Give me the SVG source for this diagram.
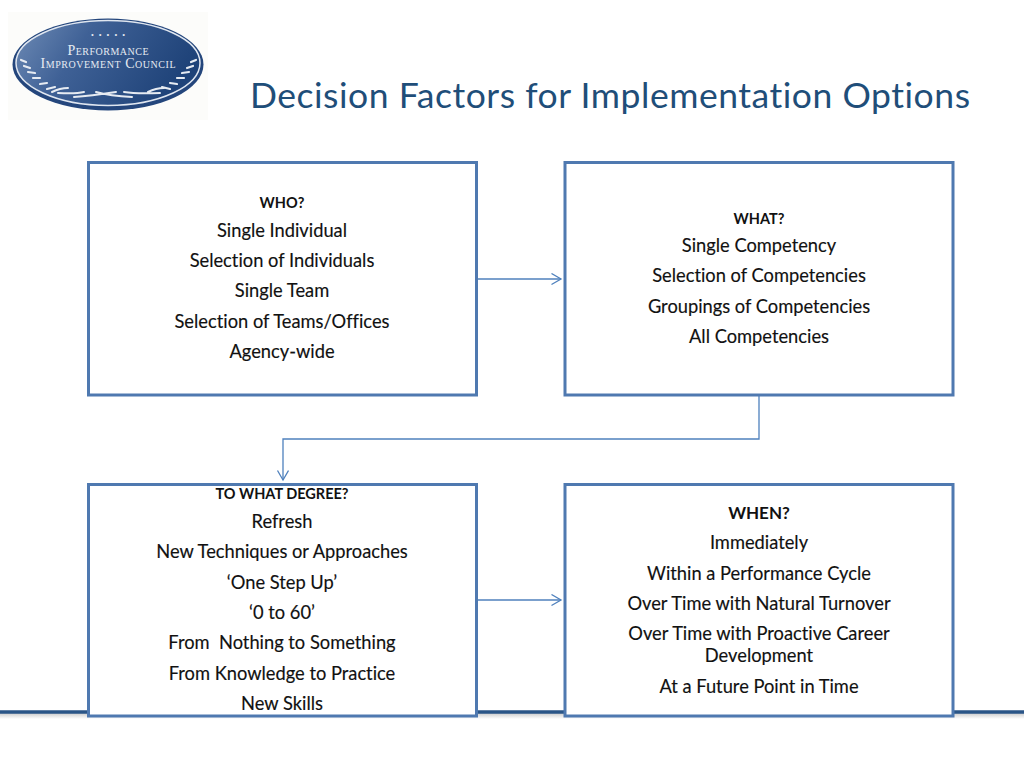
<svg xmlns="http://www.w3.org/2000/svg" width="1024" height="768" viewBox="0 0 1024 768">
<style>
.box{fill:#fff;stroke:#4f79b0;stroke-width:3}
.c{fill:none;stroke:#4f81bd;stroke-width:1.3}
text{font-family:"Lato","Liberation Sans",sans-serif;fill:#111;text-anchor:middle;font-variant-ligatures:none}
.t{font-size:18.300px;stroke:#111;stroke-width:.15}
.b{font-size:14.500px;font-weight:700}
.b2{font-size:17px;font-weight:700}
.s{font-family:"Liberation Serif",serif;fill:#e6ebf2;font-variant:small-caps;font-size:14px}
.leaf{fill:none;stroke:#e6ebf2;stroke-linecap:round}
</style>
<defs>
<linearGradient id="g" x1="0" y1="0" x2="1" y2="0.3"><stop offset="0" stop-color="#6f8cb6"/><stop offset=".4" stop-color="#3f6196"/><stop offset="1" stop-color="#1f4379"/></linearGradient>
<linearGradient id="sh" x1="0" y1="0" x2="0" y2="1"><stop offset="0" stop-color="#a8a8a8" stop-opacity=".6"/><stop offset="1" stop-color="#a8a8a8" stop-opacity="0"/></linearGradient>
<marker id="a" markerWidth="12" markerHeight="14" refX="10.500" refY="6" orient="auto" markerUnits="userSpaceOnUse"><path d="M1 0.500L10.500 6L1 11.500" fill="none" stroke="#4f81bd" stroke-width="1.300"/></marker>
</defs>
<rect width="1024" height="768" fill="#fff"/>
<g id="logo">
<rect x="8" y="12" width="200" height="108" fill="#fcfcfa"/>
<ellipse cx="108" cy="64.500" rx="95.500" ry="46" fill="#24467c"/>
<ellipse cx="108" cy="63" rx="92" ry="42.500" fill="url(#g)" stroke="#dfe6f0" stroke-width="1.500"/>
<text class="s" x="108" y="55" textLength="81">Performance</text>
<text class="s" x="108" y="68" textLength="135">Improvement Council</text>
<text class="s" x="108" y="38" style="font-size:8px" textLength="34">• • • • •</text>
<path class="leaf" stroke-width="2.200" d="M21 60L26 62M24 66L30 68M28 72L35 73M33 78L40 78M40 84L47 83M47 89L55 87M196 60L191 62M193 66L187 68M189 72L182 73M184 78L177 78M177 84L170 83M170 89L162 87"/>
<path class="leaf" stroke-width="2" d="M52 92Q60 88 68 88M58 93Q76 94 84 92M74 97Q90 96 116 92M96 92Q110 96 132 97M124 92Q136 94 160 93M148 92Q156 88 164 88"/>
</g>
<text id="title" x="610" y="108" font-size="35.500" style="fill:#1f4e79" textLength="720">Decision Factors for Implementation Options</text>
<g id="footer-rule">
<rect x="0" y="713" width="1024" height="6" fill="url(#sh)"/>
<line x1="0" y1="712" x2="1024" y2="712" stroke="#2a5587" stroke-width="3.500"/>
</g>
<g id="connectors">
<path class="c" d="M477 279H561" marker-end="url(#a)"/>
<path class="c" d="M759 395V439H283V480" marker-end="url(#a)"/>
<path class="c" d="M477 600H561" marker-end="url(#a)"/>
</g>
<g id="who">
<rect class="box" x="88.500" y="162.500" width="388" height="232.500"/>
<text class="b" x="282" y="208">WHO?</text>
<text class="t" x="282" y="236.500">Single Individual</text>
<text class="t" x="282" y="267">Selection of Individuals</text>
<text class="t" x="282" y="297">Single Team</text>
<text class="t" x="282" y="327.500">Selection of Teams/Offices</text>
<text class="t" x="282" y="358">Agency-wide</text>
</g>
<g id="what">
<rect class="box" x="565" y="162.500" width="388" height="232.500"/>
<text class="b" x="759" y="223.500">WHAT?</text>
<text class="t" x="759" y="252">Single Competency</text>
<text class="t" x="759" y="282">Selection of Competencies</text>
<text class="t" x="759" y="312.500">Groupings of Competencies</text>
<text class="t" x="759" y="343">All Competencies</text>
</g>
<g id="degree">
<rect class="box" x="88.500" y="484.500" width="388" height="231.500"/>
<text class="b" x="282" y="499">TO WHAT DEGREE?</text>
<text class="t" x="282" y="527.500">Refresh</text>
<text class="t" x="282" y="558">New Techniques or Approaches</text>
<text class="t" x="282" y="588.500">‘One Step Up’</text>
<text class="t" x="282" y="618.500">‘0 to 60’</text>
<text class="t" x="282" y="649" xml:space="preserve">From  Nothing to Something</text>
<text class="t" x="282" y="679.500">From Knowledge to Practice</text>
<text class="t" x="282" y="709.500">New Skills</text>
</g>
<g id="when">
<rect class="box" x="565" y="484.500" width="388" height="231.500"/>
<text class="b2" x="759" y="518.500">WHEN?</text>
<text class="t" x="759" y="549">Immediately</text>
<text class="t" x="759" y="579.500">Within a Performance Cycle</text>
<text class="t" x="759" y="610">Over Time with Natural Turnover</text>
<text class="t" x="759" y="640">Over Time with Proactive Career</text>
<text class="t" x="759" y="662">Development</text>
<text class="t" x="759" y="692.500">At a Future Point in Time</text>
</g>
</svg>
